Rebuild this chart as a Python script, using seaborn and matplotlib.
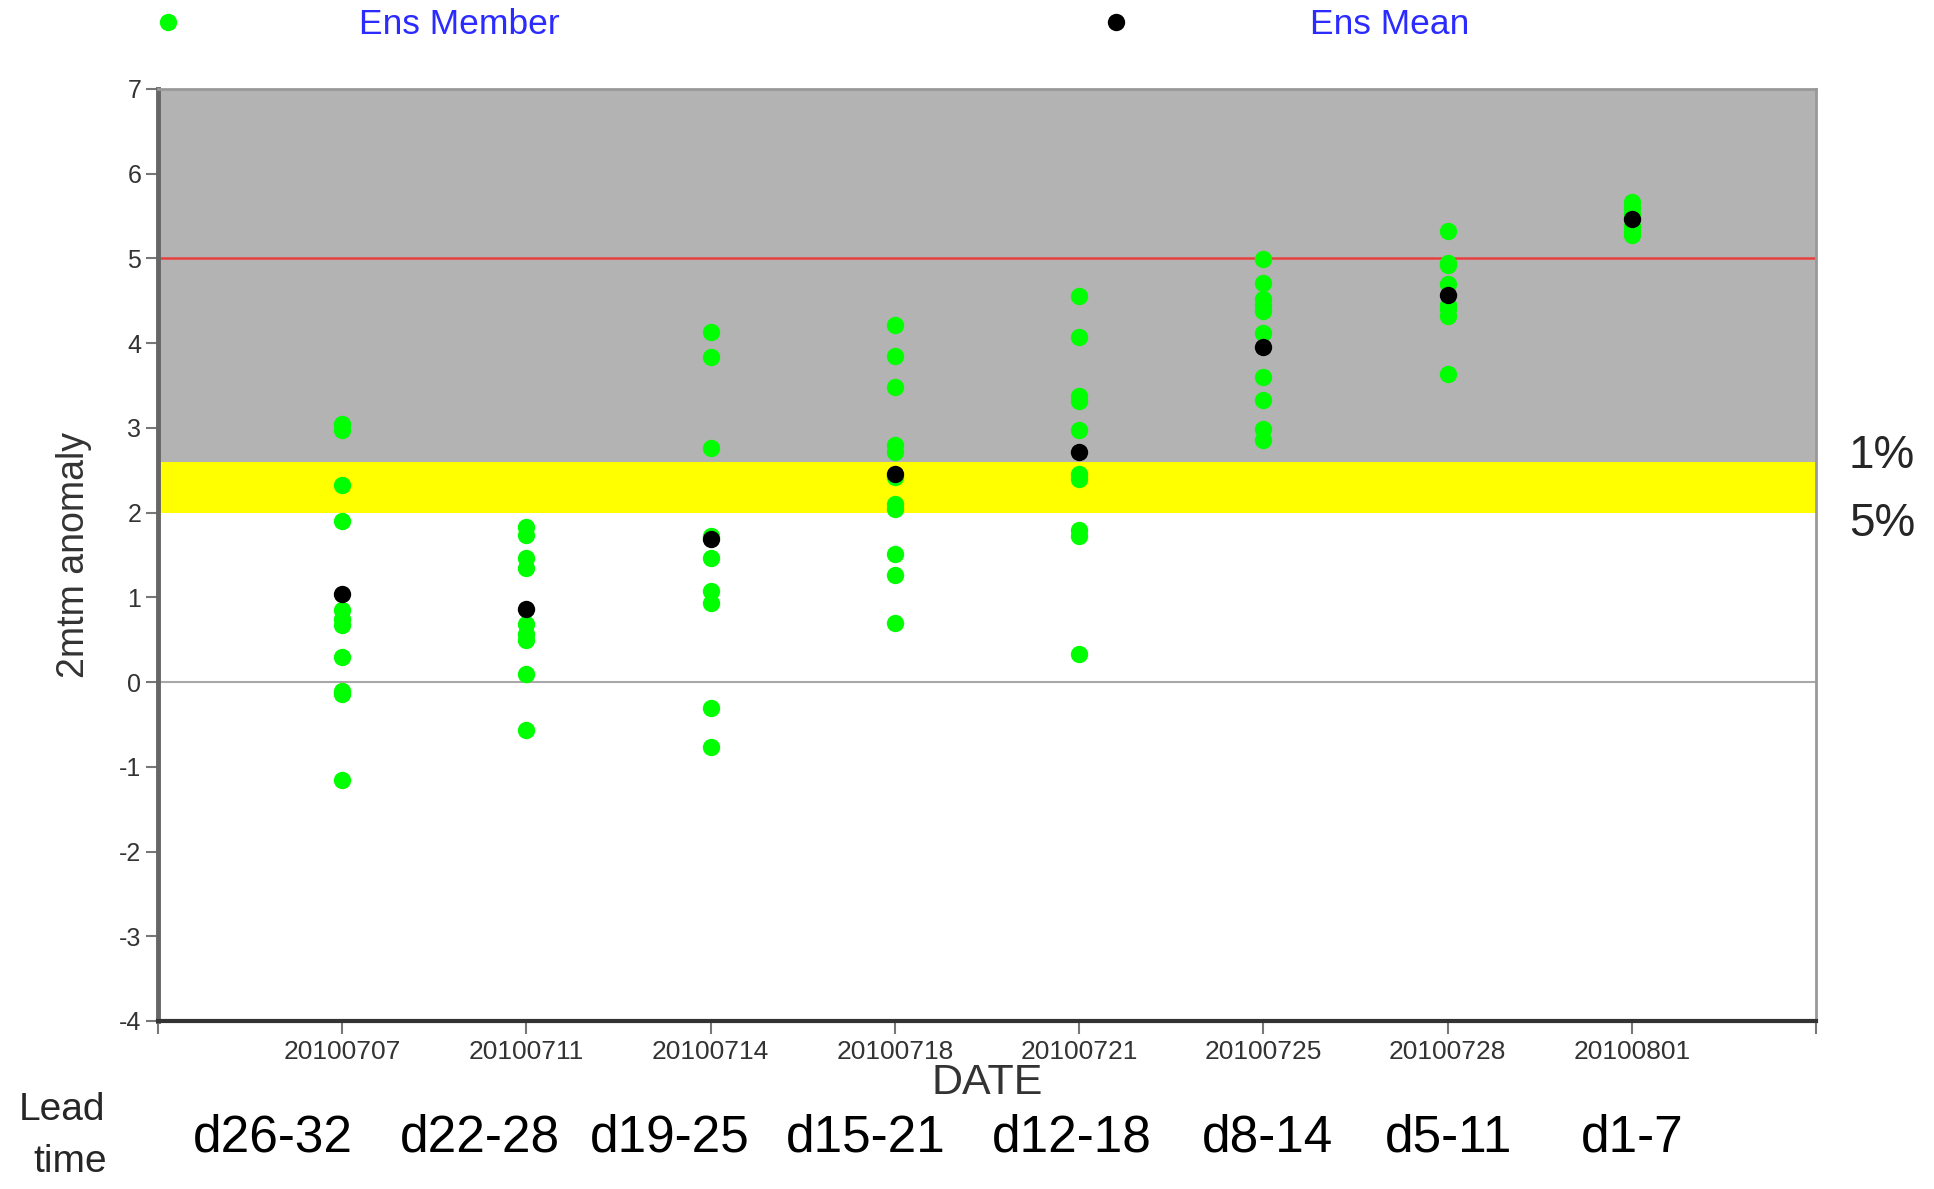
import numpy as np
import pandas as pd
import seaborn as sns
import matplotlib.pyplot as plt
from matplotlib.lines import Line2D

# ensemble forecasts of 2m temperature anomaly, by forecast start date
dates = ['20100707', '20100711', '20100714', '20100718',
         '20100721', '20100725', '20100728', '20100801']
lead_times = ['d26-32', 'd22-28', 'd19-25', 'd15-21', 'd12-18', 'd8-14', 'd5-11', 'd1-7']

members_0707 = [3.04, 2.98, 2.32, 1.90, 0.85, 0.75, 0.67, 0.30, -0.10, -0.14, -1.16]
members_0711 = [1.83, 1.73, 1.47, 1.35, 0.69, 0.57, 0.50, 0.10, -0.56]
members_0714 = [4.13, 3.84, 2.76, 1.72, 1.46, 1.08, 0.93, -0.31, -0.77]
members_0718 = [4.21, 3.85, 3.48, 2.80, 2.71, 2.42, 2.10, 2.04, 1.51, 1.26, 0.70]
members_0721 = [4.56, 4.07, 3.38, 3.32, 2.98, 2.45, 2.40, 1.80, 1.72, 0.33]
members_0725 = [4.99, 4.71, 4.52, 4.45, 4.38, 4.12, 3.60, 3.33, 2.99, 2.86]
members_0728 = [5.32, 4.95, 4.92, 4.70, 4.45, 4.40, 4.32, 3.63]
members_0801 = [5.66, 5.60, 5.52, 5.38, 5.32, 5.28]
ens_mean = [1.04, 0.86, 1.69, 2.46, 2.71, 3.96, 4.57, 5.46]

observed = 5.0       # red line
pct5, pct1 = 2.0, 2.6  # climate percentiles

all_members = [members_0707, members_0711, members_0714, members_0718,
               members_0721, members_0725, members_0728, members_0801]
df = pd.DataFrame([(d, v) for d, m in zip(dates, all_members) for v in m],
                  columns=['date', 'anom'])
df_mean = pd.DataFrame({'date': dates, 'anom': ens_mean})

sns.set_style('ticks')
plt.rcParams['font.family'] = ['Liberation Sans', 'DejaVu Sans']
plt.rcParams['axes.unicode_minus'] = False

fig = plt.figure(figsize=(19.34, 11.89), dpi=100)
ax = fig.add_axes([0.0817, 0.1413, 0.8573, 0.7839])

ax.axhspan(pct1, 7, color='#b3b3b3', lw=0, zorder=0)
ax.axhspan(pct5, pct1, color='#ffff00', lw=0, zorder=0)
ax.axhline(observed, color='#e8403f', lw=1.8, zorder=1)
ax.axhline(0, color='#a8a8a8', lw=1.5, zorder=1)

sns.stripplot(data=df, x='date', y='anom', order=dates, jitter=False,
              color='#00ff00', s=12.5, linewidth=0, ax=ax, zorder=3)
sns.stripplot(data=df_mean, x='date', y='anom', order=dates, jitter=False,
              color='black', s=12.5, linewidth=0, ax=ax, zorder=4)

ax.set_xlim(-1, 8)
ax.set_ylim(-4, 7)
ax.set_xticks(np.arange(-1, 9))
ax.set_xticklabels([''] + dates + [''])
ax.set_yticks(np.arange(-4, 8))
ax.tick_params(axis='both', labelcolor='#333333', color='#777777',
               length=9, width=1.5, direction='out')
ax.tick_params(axis='x', pad=5, labelsize=19)
ax.tick_params(axis='y', pad=3, labelsize=18)

for s in ['top', 'right']:
    ax.spines[s].set_visible(True)
    ax.spines[s].set_color('#999999')
    ax.spines[s].set_linewidth(2)
ax.spines['left'].set_color('#666666')
ax.spines['left'].set_linewidth(3.5)
ax.spines['bottom'].set_color('#333333')
ax.spines['bottom'].set_linewidth(3)

ax.set_xlabel('DATE', fontsize=31, color='#333333')
ax.set_ylabel('2mtm anomaly', fontsize=27, color='#333333')
ax.xaxis.set_label_coords(0.5, -0.045)
ax.yaxis.set_label_coords(-0.040, 0.5)

# legend along the top
fig.add_artist(Line2D([168 / 1934], [1 - 22 / 1189], transform=fig.transFigure,
                      marker='o', ms=12.5, color='#00ff00', mec='none', ls=''))
fig.add_artist(Line2D([1116 / 1934], [1 - 22 / 1189], transform=fig.transFigure,
                      marker='o', ms=12.5, color='black', mec='none', ls=''))
fig.text(359 / 1934, 1 - 24 / 1189, 'Ens Member', color='#2b2bff', fontsize=25.5,
         ha='left', va='center')
fig.text(1310 / 1934, 1 - 24 / 1189, 'Ens Mean', color='#2b2bff', fontsize=25.5,
         ha='left', va='center')

# annotations added beneath / beside the plot
lead_x = [273, 480, 670, 866, 1072, 1267, 1449, 1632]
for lx, lab in zip(lead_x, lead_times):
    fig.text(lx / 1934, 1 - 1138 / 1189, lab, fontsize=37,
             ha='center', va='center', color='black')
fig.text(62 / 1934, 1 - 1110 / 1189, 'Lead', fontsize=28,
         ha='center', va='center')
fig.text(70 / 1934, 1 - 1162 / 1189, 'time', fontsize=28,
         ha='center', va='center')
fig.text(1882 / 1934, 1 - 456 / 1189, '1%', fontsize=33,
         ha='center', va='center')
fig.text(1882 / 1934, 1 - 524 / 1189, '5%', fontsize=33,
         ha='center', va='center')

fig.savefig('out.png', dpi=100)
